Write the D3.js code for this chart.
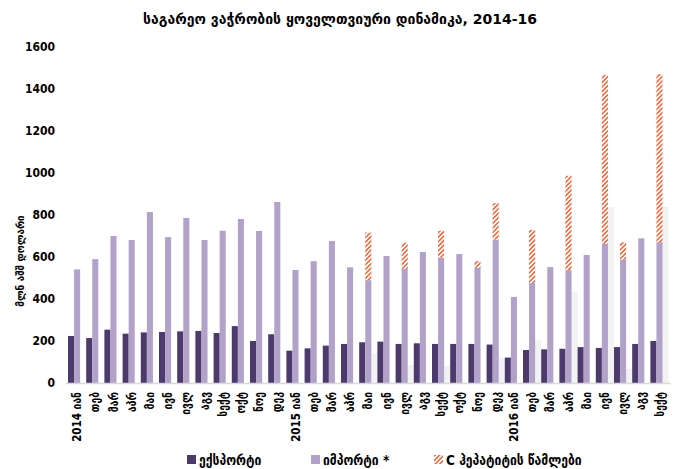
<!DOCTYPE html>
<html>
<head>
<meta charset="utf-8">
<script src="https://cdn.jsdelivr.net/npm/d3@7"></script>
<style>
  body { margin: 0; background: #fff; }
  svg text { font-family: "DejaVu Sans Condensed", "DejaVu Sans", sans-serif; fill: #000; }
</style>
</head>
<body>
<div id="chart"></div>
<script>
// month labels, 2014 Jan .. 2016 Sep
var months = ["2014 იან", "თებ", "მარ", "აპრ", "მაი", "ივნ", "ივლ", "აგვ", "სექტ", "ოქტ", "ნოე", "დეკ",
  "2015 იან", "თებ", "მარ", "აპრ", "მაი", "ივნ", "ივლ", "აგვ", "სექტ", "ოქტ", "ნოე", "დეკ",
  "2016 იან", "თებ", "მარ", "აპრ", "მაი", "ივნ", "ივლ", "აგვ", "სექტ"];

var exportVals = [224, 214, 254, 235, 241, 243, 246, 248, 238, 271, 200, 232,
  154, 165, 178, 186, 194, 197, 186, 189, 186, 186, 186, 183,
  121, 157, 160, 163, 171, 167, 171, 186, 200];

var importVals = [541, 590, 700, 681, 814, 695, 786, 681, 725, 781, 724, 862,
  538, 580, 676, 551, 490, 605, 543, 624, 598, 614, 549, 683,
  410, 476, 552, 538, 610, 663, 587, 689, 671];

// hepatitis C drugs, stacked on top of imports
var hepVals = [0, 0, 0, 0, 0, 0, 0, 0, 0, 0, 0, 0,
  0, 0, 0, 0, 226, 0, 125, 0, 127, 0, 32, 174,
  0, 253, 0, 449, 0, 804, 83, 0, 800];

// faint grey third series
var greyVals = [0, 0, 0, 0, 0, 0, 0, 0, 0, 0, 0, 0,
  0, 0, 0, 0, 140, 0, 86, 0, 81, 0, 0, 122,
  0, 205, 0, 435, 0, 838, 68, 0, 838];

var yTicks = [0, 200, 400, 600, 800, 1000, 1200, 1400, 1600];

var width = 689, height = 469;
var svg = d3.select("#chart").append("svg")
  .attr("width", width)
  .attr("height", height);

var plotLeft = 68, plotRight = 668.6, plotTop = 47, plotBottom = 383;

var defs = svg.append("defs");
defs.append("pattern")
  .attr("id", "hatch")
  .attr("patternUnits", "userSpaceOnUse")
  .attr("width", 3.2)
  .attr("height", 3.2)
  .attr("patternTransform", "rotate(45)")
  .call(function(p) {
    p.append("rect").attr("width", 3.2).attr("height", 3.2).attr("fill", "#fff");
    p.append("rect").attr("width", 1.6).attr("height", 3.2).attr("fill", "#f26a3f");
  });

var x = d3.scaleBand().domain(d3.range(months.length)).range([plotLeft, plotRight]).padding(0);
var sub = d3.scaleBand().domain([0, 1, 2]).range([0, x.bandwidth()]).padding(0);
var y = d3.scaleLinear().domain([0, 1600]).range([plotBottom, plotTop]);

// title
svg.append("text")
  .attr("x", 340)
  .attr("y", 24)
  .attr("text-anchor", "middle")
  .style("font-family", "'DejaVu Sans', sans-serif")
  .style("font-size", "14px")
  .style("font-weight", "bold")
  .text("საგარეო ვაჭრობის ყოველთვიური დინამიკა, 2014-16");

// y tick labels
svg.selectAll(".ytick")
  .data(yTicks)
  .enter()
  .append("text")
  .attr("class", "ytick")
  .attr("x", 55)
  .attr("y", function(d) { return y(d); })
  .attr("dy", "0.35em")
  .attr("text-anchor", "end")
  .style("font-size", "12px")
  .style("font-weight", "bold")
  .text(function(d) { return d; });

// y title
svg.append("text")
  .attr("transform", "translate(24,261) rotate(-90)")
  .attr("text-anchor", "middle")
  .style("font-size", "11px")
  .style("font-weight", "bold")
  .text("მლნ აშშ დოლარი");

var g = svg.append("g");

// grey series
g.selectAll(".grey")
  .data(greyVals)
  .enter()
  .append("rect")
  .attr("x", function(d, i) { return x(i) + sub(2); })
  .attr("y", function(d) { return y(d); })
  .attr("width", sub.bandwidth())
  .attr("height", function(d) { return plotBottom - y(d); })
  .attr("fill", "#f2f2f2");

g.selectAll(".exp")
  .data(exportVals)
  .enter()
  .append("rect")
  .attr("x", function(d, i) { return x(i) + sub(0); })
  .attr("y", function(d) { return y(d); })
  .attr("width", sub.bandwidth())
  .attr("height", function(d) { return plotBottom - y(d); })
  .attr("fill", "#4b3a6b");

g.selectAll(".imp")
  .data(importVals)
  .enter()
  .append("rect")
  .attr("x", function(d, i) { return x(i) + sub(1); })
  .attr("y", function(d) { return y(d); })
  .attr("width", sub.bandwidth())
  .attr("height", function(d) { return plotBottom - y(d); })
  .attr("fill", "#b2a2c9");

g.selectAll(".hep")
  .data(hepVals)
  .enter()
  .append("rect")
  .attr("x", function(d, i) { return x(i) + sub(1); })
  .attr("y", function(d, i) { return y(d + importVals[i]); })
  .attr("width", sub.bandwidth())
  .attr("height", function(d, i) { return y(importVals[i]) - y(d + importVals[i]); })
  .attr("fill", "url(#hatch)");

// baseline
svg.append("line")
  .attr("x1", plotLeft - 2).attr("x2", plotRight + 2)
  .attr("y1", plotBottom + 0.5).attr("y2", plotBottom + 0.5)
  .attr("stroke", "#d9d9d9")
  .attr("stroke-width", 1.5);

// x labels
svg.selectAll(".xlab")
  .data(months)
  .enter()
  .append("text")
  .attr("class", "xlab")
  .attr("transform", function(d, i) {
    return "translate(" + (x(i) + x.bandwidth() / 2) + "," + (plotBottom + 9) + ") rotate(-90)";
  })
  .attr("text-anchor", "end")
  .attr("dy", "0.35em")
  .style("font-size", "11.5px")
  .style("font-weight", "bold")
  .text(function(d) { return d; });

// legend
var legend = [
  { label: "ექსპორტი", fill: "#4b3a6b", x: 187 },
  { label: "იმპორტი *", fill: "#b2a2c9", x: 311 },
  { label: "C ჰეპატიტის წამლები", fill: "url(#hatch)", x: 434 }
];
var lg = svg.selectAll(".lg")
  .data(legend)
  .enter()
  .append("g")
  .attr("transform", function(d) { return "translate(" + d.x + ",455)"; });
lg.append("rect")
  .attr("width", 9)
  .attr("height", 9)
  .attr("fill", function(d) { return d.fill; });
lg.append("text")
  .attr("x", 12)
  .attr("y", 5)
  .attr("dy", "0.35em")
  .style("font-size", "13.5px")
  .style("font-weight", "bold")
  .text(function(d) { return d.label; });
</script>
</body>
</html>
